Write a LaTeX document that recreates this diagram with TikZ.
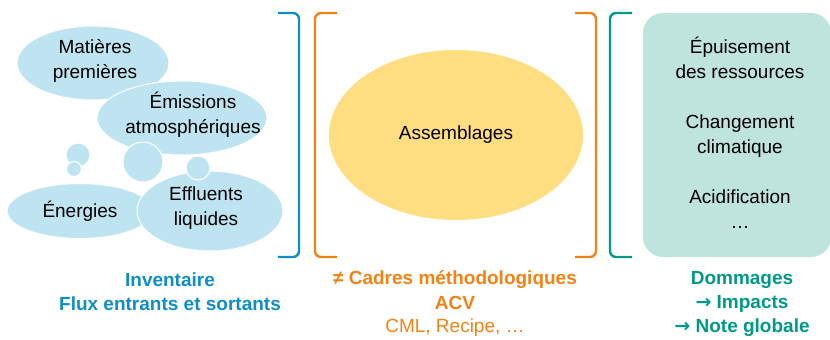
\documentclass[tikz,border=0pt]{standalone}
\usepackage{fontspec}
\setmainfont{Liberation Sans}
\newfontfamily\symbfont{DejaVu Sans}
\usetikzlibrary{shapes.geometric, positioning}
\definecolor{cBulle}{RGB}{190,228,242}
\definecolor{cJaune}{RGB}{255,222,130}
\definecolor{cVert}{RGB}{191,227,221}
\definecolor{cBleu}{RGB}{14,142,198}
\definecolor{cOrange}{RGB}{242,130,20}
\definecolor{cTeal}{RGB}{0,153,136}
\newcommand{\fleche}{{\symbfont\bfseries →}}
\tikzset{
	bulle/.style  ={ellipse, fill=cBulle, draw=white, line width=1pt, inner sep=0pt},
	txt/.style    ={align=center, font=\fontsize{19}{25}\selectfont},
	crochet/.style={line width=2.4pt, rounded corners=6pt},
	titre/.style  ={align=center, font=\fontsize{19}{24}\selectfont\bfseries},
}
\begin{document}
\begin{tikzpicture}[x=1pt, y=-1pt]
	\useasboundingbox (0,0) rectangle (830,340);
	% inventaire : bulles
	\node[bulle, minimum width=152pt, minimum height=74pt] (mp) at (93,63) {};
	\node[txt] (mpT) at (95,61) {Matières\\premières};
	\node[bulle, minimum width=170pt, minimum height=74pt] (em) at (182,118) {};
	\node[txt] (emT) at (193,115) {Émissions\\atmosphériques};
	\node[bulle, circle, minimum size=24pt] (b1) at (78,155) {};
	\node[bulle, circle, minimum size=15pt] (b2) at (74,169) {};
	\node[bulle, circle, minimum size=40pt] (b3) at (143,162) {};
	\node[bulle, minimum width=146pt, minimum height=55pt] (en) at (80,211) {};
	\node[txt] (enT) at (80,211) {Énergies};
	\node[bulle, minimum width=146pt, minimum height=80pt] (ef) at (210,211) {};
	\node[bulle, circle, minimum size=24pt] (b4) at (198,168) {};
	\node[txt] (efT) at (206,208) {Effluents\\liquides};
	% methode
	\node[ellipse, fill=cJaune, minimum width=254pt, minimum height=170pt, txt] (as) at (456,135) {Assemblages};
	% dommages
	\node[fill=cVert, rounded corners=20pt, minimum width=188pt, minimum height=244pt] (dm) at (737,135) {};
	\node[txt] (dmT) at (740,133) {Épuisement\\des ressources\\[25pt]Changement\\climatique\\[25pt]Acidification\\\ldots};
	% crochets
	\draw[crochet, cBleu] (278,13) -- (299,13) -- (299,257) -- (278,257);
	\draw[crochet, cOrange] (337,13) -- (315,13) -- (315,257) -- (337,257);
	\draw[crochet, cOrange] (575,13) -- (596,13) -- (596,257) -- (575,257);
	\draw[crochet, cTeal] (632,13) -- (610,13) -- (610,257) -- (632,257);
	% legendes
	\node[titre, text=cBleu] (inv) at (170,292) {Inventaire\\Flux entrants et sortants};
	\node[titre, text=cOrange] (acv) at (455,304) {≠ Cadres méthodologiques\\ACV\\\mdseries CML, Recipe, …};
	\node[titre, text=cTeal] (dom) at (742,304) {Dommages\\\fleche{} Impacts\\\fleche{} Note globale};
\end{tikzpicture}
\end{document}
